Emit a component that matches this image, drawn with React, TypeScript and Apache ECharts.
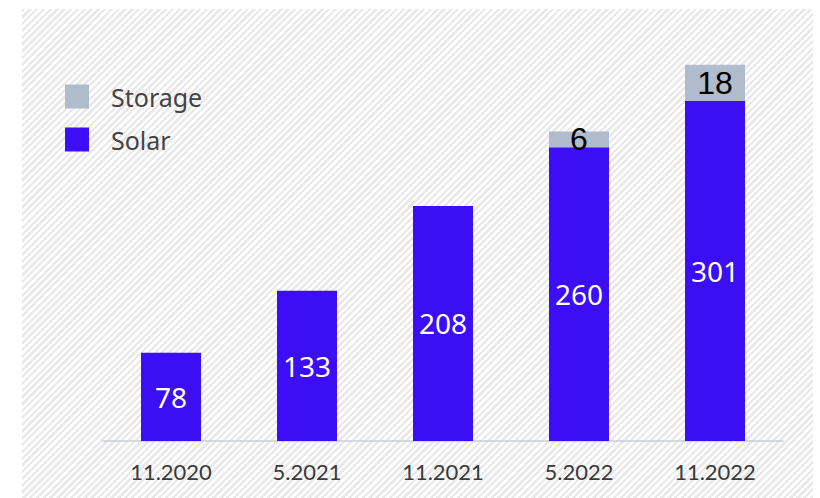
import React, { useEffect, useRef } from "react";
import * as echarts from "echarts";

const categories = ["11.2020", "5.2021", "11.2021", "5.2022", "11.2022"];
const solarValues = [78, 133, 208, 260, 301];
// drawn heights of the storage segments as they appear in the picture
const storageHeights = [null, null, null, 14, 32];
// numbers printed on the storage segments
const storageLabels = ["", "", "", "6", "18"];

export default function App() {
  const ref = useRef<HTMLDivElement>(null);

  useEffect(() => {
    if (!ref.current) return;
    const chart = echarts.init(ref.current, null, { renderer: "svg" });
    chart.setOption({
      animation: false,
      backgroundColor: "transparent",
      grid: { left: 103, right: 37, top: 45.5, bottom: 57 },
      legend: {
        data: ["Storage", "Solar"],
        orient: "vertical",
        left: 65,
        top: 84,
        padding: 0,
        itemWidth: 24,
        itemHeight: 24,
        itemGap: 18,
        icon: "rect",
        textStyle: {
          fontSize: 25,
          lineHeight: 24,
          color: "#444444",
          fontFamily: "Noto Sans",
          padding: [0, 0, 0, 17],
        },
      },
      xAxis: {
        type: "category",
        data: categories,
        axisLine: { show: true, lineStyle: { color: "#c9ced8", width: 1.5 } },
        axisTick: { show: false },
        axisLabel: {
          margin: 19,
          fontSize: 22,
          color: "#3a3a3a",
          fontFamily: "Lato",
        },
      },
      yAxis: {
        type: "value",
        min: 0,
        max: 350,
        show: false,
        splitLine: { show: false },
      },
      series: [
        {
          name: "Solar",
          type: "bar",
          stack: "total",
          barWidth: 60,
          data: solarValues,
          itemStyle: { color: "#3c0ef6" },
          label: {
            show: true,
            position: "inside",
            color: "#ffffff",
            fontSize: 28,
            fontFamily: "Noto Sans",
          },
        },
        {
          name: "Storage",
          type: "bar",
          stack: "total",
          barWidth: 60,
          data: storageHeights,
          itemStyle: { color: "#b0bccb" },
          label: {
            show: true,
            position: "inside",
            color: "#000000",
            fontSize: 32,
            fontFamily: "Liberation Sans",
            formatter: (p: any) => storageLabels[p.dataIndex],
          },
        },
      ],
    });
    return () => chart.dispose();
  }, []);

  return (
    <div
      style={{
        position: "absolute",
        left: 0,
        top: 0,
        width: 820,
        height: 498,
        overflow: "hidden",
        background: "#ffffff",
      }}
    >
      <div
        style={{
          position: "absolute",
          left: 22,
          top: 9,
          width: 791,
          height: 489,
          background:
            "repeating-linear-gradient(135deg, #e9e9e9 0px, #e9e9e9 2.4px, #ffffff 2.4px, #ffffff 4.8px)",
        }}
      />
      <div
        ref={ref}
        style={{ position: "absolute", left: 0, top: 0, width: 820, height: 498 }}
      />
    </div>
  );
}
